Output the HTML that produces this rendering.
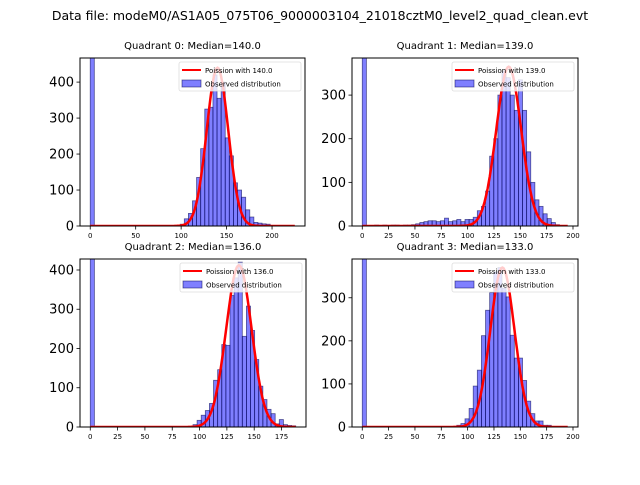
<!DOCTYPE html>
<html><head><meta charset="utf-8">
<style>
body{margin:0;background:#fff;font-family:"Liberation Sans","DejaVu Sans",sans-serif;}
svg text{font-family:"DejaVu Sans","Liberation Sans",sans-serif;}
</style></head>
<body>
<svg id="fig" width="640" height="480" xmlns="http://www.w3.org/2000/svg">
<rect width="640" height="480" fill="#fff"/>
<text x="320" y="20" text-anchor="middle" font-size="12.5">Data file: modeM0/AS1A05_075T06_9000003104_21018cztM0_level2_quad_clean.evt</text>
</svg>
<script>
const quadNames = ["Quadrant 0","Quadrant 1","Quadrant 2","Quadrant 3"];
const medians = [140.0, 139.0, 136.0, 133.0];
const xMaxes = [225, 195, 188, 195];
const yMaxes = [467, 385, 428, 390];
const poissonPeaks = [440, 365, 412, 370];
const yTicks0 = [0,100,200,300,400];
const yTicks1 = [0,100,200,300];
const yTicks2 = [0,100,200,300,400];
const yTicks3 = [0,100,200,300];
const xTicks0 = [0,50,100,150,200];
const xTicks1 = [0,25,50,75,100,125,150,175,200];
const xTicks2 = [0,25,50,75,100,125,150,175];
const xTicks3 = [0,25,50,75,100,125,150,175,200];
// counts per bin (50 bins over [0, xMax])
const counts0 = [2000,0,0,0,0,0,0,0,0,0, 0,0,0,0,0,0,0,0,0,0, 0,0,5,20,35,70,135,215,325,330, 420,355,400,245,195,120,100,80,45,25, 10,8,6,5,0,0,0,0,0,0];
const counts1 = [2000,1,1,2,1,2,1,2,2,1, 2,2,3,5,8,10,12,12,10,12, 18,10,12,15,10,15,15,20,35,45, 80,160,200,300,355,340,300,265,335,265, 170,100,60,45,28,17,8,3,1,0];
const counts2 = [2000,0,0,0,0,0,0,0,0,0, 0,0,0,0,0,0,0,0,0,0, 0,0,0,0,0,6,17,30,42,60, 119,146,210,208,335,380,420,231,308,246, 172,104,70,45,34,8,19,6,4,3];
const counts3 = [2000,0,0,0,0,0,0,0,0,0, 0,0,0,0,0,0,0,0,0,0, 0,0,0,4,8,19,43,95,132,212, 271,312,360,370,322,302,213,160,160,108, 60,31,14,14,4,4,1,0,0,0];

const allCounts=[counts0,counts1,counts2,counts3];
const allYT=[yTicks0,yTicks1,yTicks2,yTicks3];
const allXT=[xTicks0,xTicks1,xTicks2,xTicks3];
const boxes=[[80,58,225,168],[352,58,226,168],[80,259,226,168],[352,259,226,168]];
const NS="http://www.w3.org/2000/svg";
const fig=document.getElementById('fig');
function mk(tag,attrs,parent){const e=document.createElementNS(NS,tag);for(const k in attrs)e.setAttribute(k,attrs[k]);(parent||fig).appendChild(e);return e;}

for(let q=0;q<4;q++){
  const [L,T,W,H]=boxes[q];
  const xm=xMaxes[q], x0=-0.05*xm, x1=1.05*xm;
  const sx=v=>L+(v-x0)/(x1-x0)*W;
  const sy=v=>T+H-v/yMaxes[q]*H;
  const g=mk('g',{});
  
  
  const cid='clip'+q;
  const cp=mk('clipPath',{id:cid},g);mk('rect',{x:L,y:T,width:W,height:H},cp);
  const bars=mk('g',{'clip-path':'url(#'+cid+')'},g);
  const c=allCounts[q], n=c.length, bw=xm/n;
  for(let i=0;i<n;i++){
    if(c[i]<=0)continue;
    const r=mk('rect',{x:sx(i*bw),y:sy(c[i]),width:sx((i+1)*bw)-sx(i*bw),height:sy(0)-sy(c[i]),fill:'rgba(0,0,255,0.5)',stroke:'rgba(0,0,80,0.6)','stroke-width':0.8},bars);
    
    
  }
  const lam=medians[q];let d='';
  for(let k=0;k<=xm;k++){
    const v=poissonPeaks[q]*Math.exp(-(k-lam)*(k-lam)/(2*lam));
    d+=(k?'L':'M')+sx(k).toFixed(1)+','+sy(v).toFixed(1);
  }
  const pl=mk('path',{d:d,fill:'none',stroke:'#f00','stroke-width':2.5},bars);
  
  
  mk('rect',{x:L,y:T,width:W,height:H,fill:'none',stroke:'#000','stroke-width':1},g);
  allYT[q].forEach(t=>{
    const y=sy(t);
    mk('line',{x1:L-3.5,x2:L,y1:y,y2:y,stroke:'#000','stroke-width':0.8},g);
    const tx=mk('text',{x:L-6,y:y+4.5,'text-anchor':'end','font-size':13},g);tx.textContent=t;
    
    
  });
  allXT[q].forEach(t=>{
    const x=sx(t);
    mk('line',{x1:x,x2:x,y1:T+H,y2:T+H+3.5,stroke:'#000','stroke-width':0.8},g);
    const tx=mk('text',{x:x,y:T+H+12,'text-anchor':'middle','font-size':7},g);tx.textContent=t;
    
    
  });
  const tt=mk('text',{x:L+W/2,y:T-9,'text-anchor':'middle','font-size':10},g);
  tt.textContent=quadNames[q]+': Median='+medians[q].toFixed(1);
  
  
  const lg=mk('g',{},g);
  
  
  const lx=L+W-126, ly=T+4;
  mk('rect',{x:lx,y:ly,width:122,height:29,rx:2,fill:'rgba(255,255,255,0.8)',stroke:'#ddd','stroke-width':0.8},lg);
  mk('line',{x1:lx+3,x2:lx+22,y1:ly+8,y2:ly+8,stroke:'#f00','stroke-width':2},lg);
  const t1=mk('text',{x:lx+26,y:ly+11,'font-size':7},lg);t1.textContent='Poission with '+medians[q].toFixed(1);
  
  
  mk('rect',{x:lx+3,y:ly+18,width:19,height:7,fill:'rgba(0,0,255,0.5)',stroke:'rgba(0,0,80,0.6)','stroke-width':0.8},lg);
  const t2=mk('text',{x:lx+26,y:ly+24.5,'font-size':7},lg);t2.textContent='Observed distribution';
  
  
}
</script>
</body></html>
